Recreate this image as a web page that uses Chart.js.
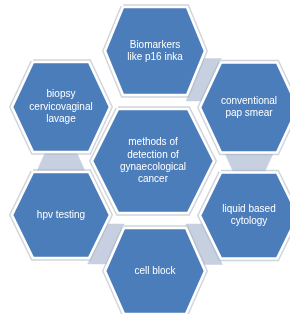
<!DOCTYPE html>
<html><head><meta charset="utf-8">
<script src="https://cdn.jsdelivr.net/npm/chart.js@4/dist/chart.umd.min.js"></script>
<style>html,body{margin:0;padding:0;background:#fff}#wrap{width:290px;height:314px;position:relative}</style>
</head><body><div id="wrap"><canvas id="c"></canvas></div>
<script>
// ---- content ----
const nodeLabels = [
  ['Biomarkers', 'like p16 inka'],
  ['biopsy', 'cervicovaginal', 'lavage'],
  ['conventional', 'pap smear'],
  ['methods of', 'detection of', 'gynaecological', 'cancer'],
  ['hpv testing'],
  ['liquid based', 'cytology'],
  ['cell block']
];
// links between neighbouring hexagons (node indices: upper, lower)
const links = [[0, 2], [1, 4], [2, 5], [4, 6], [5, 6]];

// ---- layout (diagram units) ----
const nodeX = [155, 61, 249, 153, 61, 249, 155];
const nodeY = [51, 107, 107.5, 161, 215, 215.5, 271];
const nodeW = [50, 49, 49, 61, 49, 49, 50];   // half width (to pointy ends)
const nodeH = [44, 45, 45, 52, 43, 43, 43];   // half height
const nodeT = [32, 28, 28, 35, 28, 28, 31];   // half length of flat top edge
const linkTaper = [0, 1, -1, 0, 0];

const BLUE = '#4b7dbb', GREY = '#c7d0e0';

function hexPts(i) {
  const x = nodeX[i], y = nodeY[i], w = nodeW[i], h = nodeH[i], t = nodeT[i];
  const p = [[x - t, y - h], [x + t, y - h], [x + w, y], [x + t, y + h], [x - t, y + h], [x - w, y]];
  p.push(p[0]);
  return p.map(q => ({x: q[0], y: q[1]}));
}
function linkPts(k) {
  const [a, b] = links[k];
  const g = 1.5;
  if (Math.abs(nodeX[a] - nodeX[b]) < 10) {
    const y0 = nodeY[a] + nodeH[a], y1 = nodeY[b] - nodeH[b];
    const cx = (nodeX[a] + nodeX[b]) / 2, ta = linkTaper[k];
    const w0 = 20 - ta * 4.5, w1 = 20 + ta * 4.5;
    return [[cx - w0, y0], [cx + w0, y0], [cx + w1, y1], [cx - w1, y1], [cx - w0, y0]].map(q => ({x: q[0], y: q[1]}));
  }
  const y0 = nodeY[b] - nodeH[b] - 4, y1 = nodeY[a] + nodeH[a] + 6;
  let pts;
  if (nodeX[b] > nodeX[a]) {
    const xa = y => nodeX[a] + nodeW[a] - (nodeW[a] - nodeT[a]) * (y - nodeY[a]) / nodeH[a] + g;
    const xb = y => nodeX[b] - nodeT[b] - (nodeW[b] - nodeT[b]) * (y - (nodeY[b] - nodeH[b])) / nodeH[b] - g;
    pts = [[xa(y0), y0], [xb(y0), y0], [xb(y1), y1], [xa(y1), y1]];
  } else {
    const xa = y => nodeX[a] - nodeW[a] + (nodeW[a] - nodeT[a]) * (y - nodeY[a]) / nodeH[a] - g;
    const xb = y => nodeX[b] + nodeT[b] + (nodeW[b] - nodeT[b]) * (y - (nodeY[b] - nodeH[b])) / nodeH[b] + g;
    pts = [[xb(y0), y0], [xa(y0), y0], [xa(y1), y1], [xb(y1), y1]];
  }
  pts.push(pts[0]);
  return pts.map(q => ({x: q[0], y: q[1]}));
}

const datasets = [];
nodeLabels.forEach((_, i) => {
  datasets.push({data: hexPts(i), showLine: true, fill: 'shape', backgroundColor: BLUE,
    borderColor: '#ffffff', borderWidth: 2.6, pointRadius: 0, order: 1, tension: 0});
  datasets.push({data: hexPts(i), showLine: true, fill: false, backgroundColor: 'transparent',
    borderColor: 'rgba(170,178,192,0.55)', borderWidth: 5.5, pointRadius: 0, order: 2, tension: 0});
});
links.forEach((_, k) => {
  datasets.push({data: linkPts(k), showLine: true, fill: 'shape', backgroundColor: GREY,
    borderColor: GREY, borderWidth: 0.5, pointRadius: 0, order: 3, tension: 0});
});

const textPlugin = {
  id: 'hexText',
  afterDatasetsDraw(chart) {
    const {ctx, scales: {x, y}} = chart;
    ctx.save();
    ctx.fillStyle = '#ffffff';
    ctx.font = '10px "Liberation Sans", Arial, sans-serif';
    ctx.textAlign = 'center';
    ctx.textBaseline = 'middle';
    const lh = 12.3;
    nodeLabels.forEach((lines, i) => {
      const px = x.getPixelForValue(nodeX[i]);
      const py = y.getPixelForValue(nodeY[i]);
      lines.forEach((s, j) => {
        ctx.fillText(s, px, py + (j - (lines.length - 1) / 2) * lh);
      });
    });
    ctx.restore();
  }
};

new Chart(document.getElementById('c'), {
  type: 'scatter',
  data: {datasets},
  options: {
    responsive: true, maintainAspectRatio: false, animation: false,
    layout: {padding: 0},
    plugins: {legend: {display: false}, tooltip: {enabled: false}},
    scales: {
      x: {type: 'linear', min: 0, max: 290, display: false},
      y: {type: 'linear', min: 0, max: 314, reverse: true, display: false}
    }
  },
  plugins: [textPlugin]
});
</script>
</body></html>
